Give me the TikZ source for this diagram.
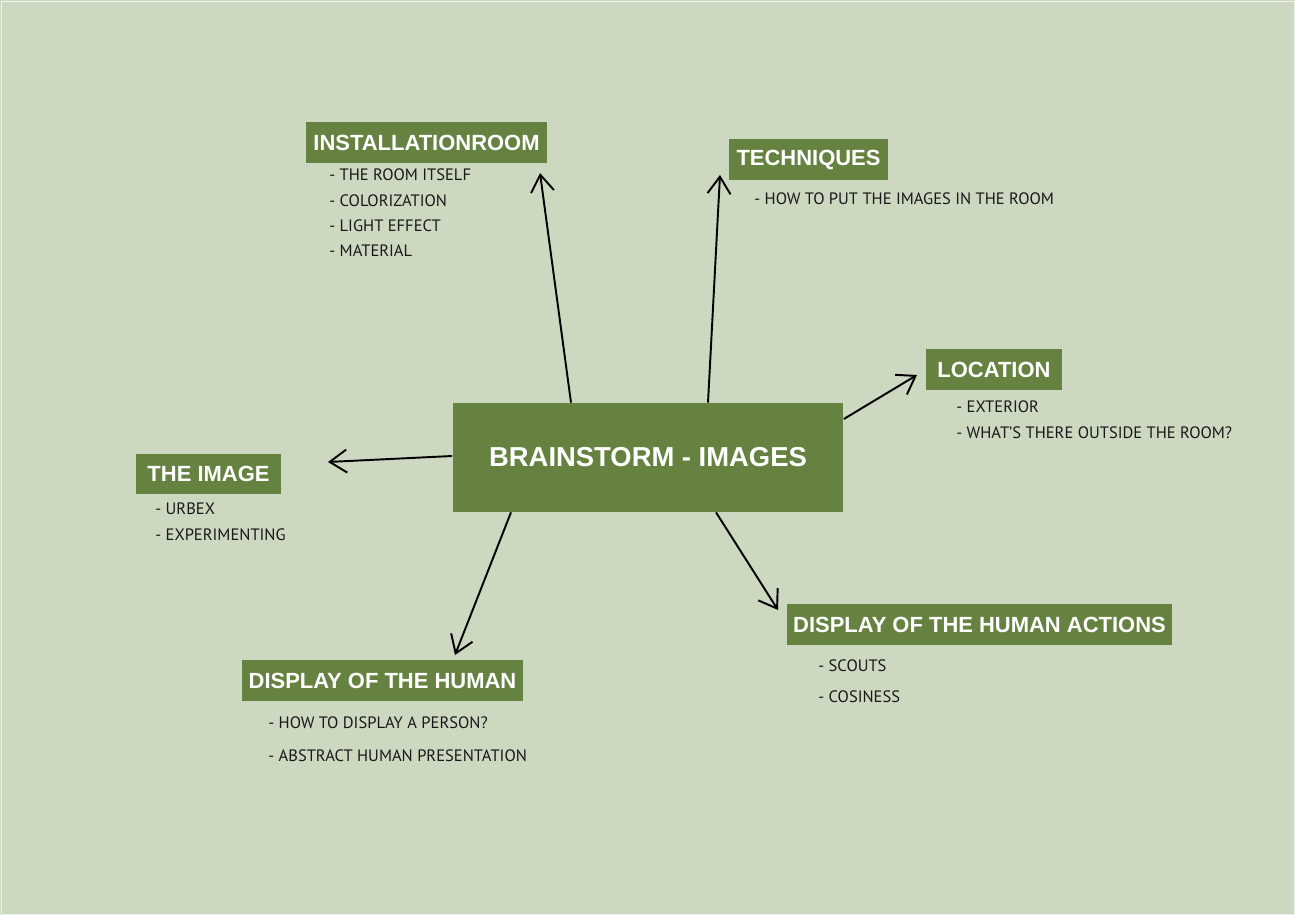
\documentclass[tikz,border=0pt]{standalone}
\usepackage{fontspec}
\setmainfont{PT Sans}
\newfontfamily\titlefont{Liberation Sans}
\usetikzlibrary{arrows.meta}

\definecolor{sage}{HTML}{CDD8C0}
\definecolor{moss}{HTML}{668241}

\tikzset{
    topic/.style={fill=moss, text=white, font=\titlefont\bfseries\fontsize{12.5}{14}\selectfont,
        minimum height=0.82cm, inner sep=0pt},
    item/.style={anchor=west, inner sep=0pt, text=black!90, font=\fontsize{9.4}{11}\selectfont},
    spoke/.style={-{Straight Barb[length=3.4mm,width=4.6mm]}, line width=1.1pt},
}

\begin{document}
\begin{tikzpicture}[x=0.02cm, y=-0.02cm]

\fill[sage] (0,0) rectangle (1295,915);
\draw[white!70!sage, line width=0.4pt] (1,1) rectangle (1294,914);

\node [topic, minimum width=7.82cm, minimum height=2.18cm,
       font=\titlefont\bfseries\fontsize{15.6}{18}\selectfont] (hub) at (648,457.5) {BRAINSTORM - IMAGES};

\node [topic, minimum width=4.82cm] (inst) at (426.5,142.5) {INSTALLATIONROOM};
\node [topic, minimum width=3.18cm] (tech) at (808.5,159.5) {TECHNIQUES};
\node [topic, minimum width=2.72cm] (loc)  at (994,369.5)   {LOCATION};
\node [topic, minimum width=2.90cm] (img)  at (208.5,474)   {THE IMAGE};
\node [topic, minimum width=5.62cm] (hum)  at (382.5,680.5) {DISPLAY OF THE HUMAN};
\node [topic, minimum width=7.70cm] (act)  at (979.5,624.5) {DISPLAY OF THE HUMAN ACTIONS};

% lists
\foreach \t [count=\i] in {THE ROOM ITSELF, COLORIZATION, LIGHT EFFECT, MATERIAL}
    \node [item] (inst\i) at (329,149.5+25.4*\i) {- \t};

\node [item] (tech1) at (754,199) {- HOW TO PUT THE IMAGES IN THE ROOM};

\node [item] (loc1) at (956,407) {- EXTERIOR};
\node [item] (loc2) at (956,433) {- WHAT'S THERE OUTSIDE THE ROOM?};

\node [item] (img1) at (155,509) {- URBEX};
\node [item] (img2) at (155,535) {- EXPERIMENTING};

\node [item] (hum1) at (268,723) {- HOW TO DISPLAY A PERSON?};
\node [item] (hum2) at (268,756) {- ABSTRACT HUMAN PRESENTATION};

\node [item] (act1) at (818,666) {- SCOUTS};
\node [item] (act2) at (818,697) {- COSINESS};

% arrow tips
\coordinate (toinst) at (540,173);
\coordinate (totech) at (720,175);
\coordinate (toloc)  at (917,375);
\coordinate (toimg)  at (328,462);
\coordinate (tohum)  at (455,655);
\coordinate (toact)  at (778,610);

\draw [spoke] (hub.north -| 571,0) -- (toinst);
\draw [spoke] (hub.north -| 708,0) -- (totech);
\draw [spoke] (hub.east |- 0,419)  -- (toloc);
\draw [spoke] (hub.west |- 0,456)  -- (toimg);
\draw [spoke] (hub.south -| 511,0) -- (tohum);
\draw [spoke] (hub.south -| 716,0) -- (toact);

\end{tikzpicture}
\end{document}
